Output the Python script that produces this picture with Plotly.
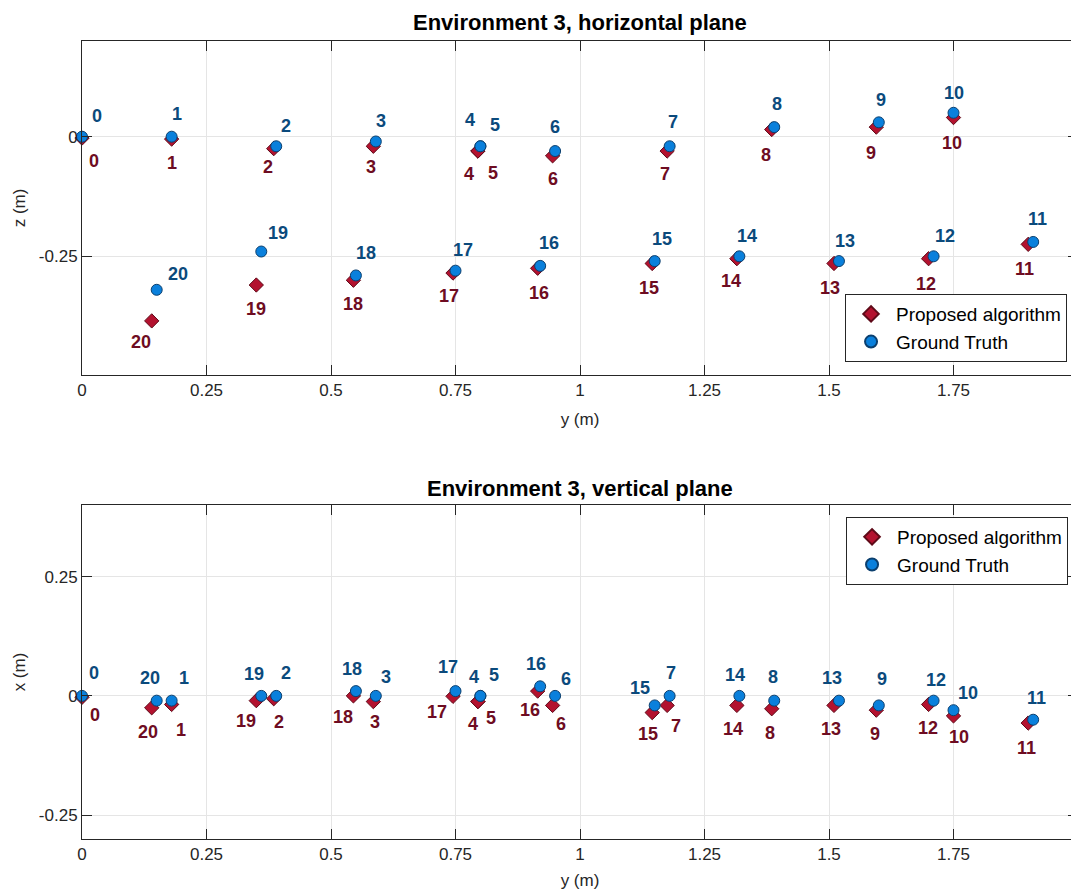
import plotly.graph_objects as go

# ---------------- data ----------------
point_ids = list(range(21))

# Ground truth positions (m)
gt_y = [0.00, 0.18, 0.39, 0.59, 0.80, 0.80, 0.95, 1.18, 1.39, 1.60, 1.75,
        1.91, 1.71, 1.52, 1.32, 1.15, 0.92, 0.75, 0.55, 0.36, 0.15]
gt_z = [0.00, 0.00, -0.02, -0.01, -0.02, -0.02, -0.03, -0.02, 0.02, 0.03, 0.05,
        -0.22, -0.25, -0.26, -0.25, -0.26, -0.27, -0.28, -0.29, -0.24, -0.32]
gt_x = [0.00, -0.01, 0.00, 0.00, 0.00, 0.00, 0.00, 0.00, -0.01, -0.02, -0.03,
        -0.05, -0.01, -0.01, 0.00, -0.02, 0.02, 0.01, 0.01, 0.00, -0.01]

# Proposed algorithm estimates (m)
est_y = [0.00, 0.18, 0.385, 0.585, 0.795, 0.795, 0.945, 1.175, 1.385, 1.595, 1.75,
         1.90, 1.70, 1.51, 1.315, 1.145, 0.915, 0.745, 0.545, 0.35, 0.14]
est_z = [-0.003, -0.005, -0.025, -0.02, -0.03, -0.03, -0.04, -0.03, 0.015, 0.02, 0.04,
         -0.225, -0.255, -0.265, -0.255, -0.265, -0.275, -0.285, -0.30, -0.31, -0.385]
est_x = [-0.003, -0.018, -0.006, -0.012, -0.012, -0.012, -0.02, -0.02, -0.027, -0.03, -0.042,
         -0.057, -0.018, -0.02, -0.02, -0.035, 0.01, -0.001, 0.0, -0.01, -0.025]

x_tick_vals = [0, 0.25, 0.5, 0.75, 1, 1.25, 1.5, 1.75, 2]
x_tick_text = ["0", "0.25", "0.5", "0.75", "1", "1.25", "1.5", "1.75", "2"]

# label offsets in screen pixels (dx right, dy down)
top_gt_off = [(15, -21), (5, -23), (10, -20), (5, -20), (-10, -26), (15, -21), (0, -24),
              (3, -24), (3, -23), (2, -22), (0, -20), (4, -23), (11, -20), (6, -20),
              (8, -20), (7, -22), (9, -23), (7, -21), (10, -22), (17, -19), (21, -16)]
top_est_off = [(12, 23), (0, 24), (-6, 18), (-2, 21), (-9, 23), (15, 22), (0, 23),
               (-2, 23), (-6, 25), (-5, 26), (-2, 25), (-4, 25), (-3, 25), (-4, 25),
               (-6, 22), (-3, 25), (1, 25), (-4, 23), (0, 24), (0, 24), (-11, 21)]
bot_gt_off = [(12, -23), (12, -23), (10, -23), (10, -19), (-6, -19), (14, -21), (11, -17),
              (1, -23), (-1, -24), (3, -26), (14, -17), (3, -22), (2, -21), (-7, -23),
              (-4, -21), (-15, -17), (-4, -22), (-8, -24), (-4, -22), (-7, -22), (-7, -23)]
bot_est_off = [(13, 18), (9, 26), (5, 23), (2, 20), (-5, 22), (13, 16), (8, 19),
               (9, 21), (-2, 24), (-1, 24), (5, 21), (-2, 25), (-1, 24), (-3, 24),
               (-4, 24), (-4, 21), (-8, 19), (-16, 16), (-10, 21), (-10, 20), (-4, 24)]

# ---------------- style ----------------
FONT = "Liberation Sans, Arial, Helvetica, sans-serif"
RED_FILL, RED_EDGE, RED_TEXT = "#B3122F", "#5E0A18", "#6E0C22"
BLUE_FILL, BLUE_EDGE, BLUE_TEXT = "#0A80DC", "#0B3F6E", "#0B4A7C"
AX_COL = "#262626"
GRID_COL = "#E5E5E5"

fig = go.Figure()

def add_pair(xs_est, ys_est, xs_gt, ys_gt, xa, ya, leg):
    fig.add_trace(go.Scatter(
        x=xs_est, y=ys_est, mode="markers", name="Proposed algorithm",
        marker=dict(symbol="diamond", size=11, color=RED_FILL,
                    line=dict(color=RED_EDGE, width=1)),
        xaxis=xa, yaxis=ya, legend=leg, cliponaxis=False))
    fig.add_trace(go.Scatter(
        x=xs_gt, y=ys_gt, mode="markers", name="Ground Truth",
        marker=dict(symbol="circle", size=11, color=BLUE_FILL,
                    line=dict(color=BLUE_EDGE, width=1)),
        xaxis=xa, yaxis=ya, legend=leg, cliponaxis=False))

add_pair(est_y, est_z, gt_y, gt_z, "x", "y", "legend")
add_pair(est_y, est_x, gt_y, gt_x, "x2", "y2", "legend2")

annotations = []

def add_labels(xs, ys, offs, xr, yr, color):
    for i, (xv, yv, (dx, dy)) in enumerate(zip(xs, ys, offs)):
        annotations.append(dict(
            x=xv, y=yv, xref=xr, yref=yr, text=str(point_ids[i]),
            showarrow=False, xshift=dx, yshift=-dy,
            font=dict(family=FONT, size=18, color=color, weight="bold")))

add_labels(gt_y, gt_z, top_gt_off, "x", "y", BLUE_TEXT)
add_labels(est_y, est_z, top_est_off, "x", "y", RED_TEXT)
add_labels(gt_y, gt_x, bot_gt_off, "x2", "y2", BLUE_TEXT)
add_labels(est_y, est_x, bot_est_off, "x2", "y2", RED_TEXT)

annotations.append(dict(text="<b>Environment 3, horizontal plane</b>", x=0.5, y=1.0238,
                        xref="paper", yref="paper", showarrow=False, yanchor="middle",
                        font=dict(family=FONT, size=22, color="#000000")))
annotations.append(dict(text="<b>Environment 3, vertical plane</b>", x=0.5, y=0.4398,
                        xref="paper", yref="paper", showarrow=False, yanchor="middle",
                        font=dict(family=FONT, size=22, color="#000000")))

axis_common = dict(showgrid=True, gridcolor=GRID_COL, gridwidth=1, zeroline=False,
                   showline=True, linecolor=AX_COL, linewidth=1, mirror="ticks",
                   ticks="inside", ticklen=10, tickcolor=AX_COL,
                   tickfont=dict(family=FONT, size=17, color=AX_COL),
                   ticklabeloverflow="allow", automargin=False)

# the page body adds an 8px offset; the figure is sized so the plot areas land
# on the same pixels as the reference (x 82..1078, y 41..839)
fig.update_layout(
    width=1071, height=882,
    margin=dict(l=74, r=1, t=33, b=51),
    paper_bgcolor="white", plot_bgcolor="white",
    font=dict(family=FONT, color=AX_COL),
    showlegend=True,
    xaxis=dict(domain=[0, 1], range=[0, 2], anchor="y", tickvals=x_tick_vals,
               ticktext=x_tick_text,
               title=dict(text="y (m)", font=dict(family=FONT, size=17, color=AX_COL), standoff=13),
               **axis_common),
    yaxis=dict(domain=[0.5815, 1], range=[-0.498, 0.2], anchor="x",
               tickvals=[-0.25, 0], ticktext=["-0.25", "0"],
               title=dict(text="z (m)", font=dict(family=FONT, size=17, color=AX_COL), standoff=8),
               **axis_common),
    xaxis2=dict(domain=[0, 1], range=[0, 2], anchor="y2", tickvals=x_tick_vals,
                ticktext=x_tick_text,
                title=dict(text="y (m)", font=dict(family=FONT, size=17, color=AX_COL), standoff=13),
                **axis_common),
    yaxis2=dict(domain=[0, 0.4185], range=[-0.3, 0.4], anchor="x2",
                tickvals=[-0.25, 0, 0.25], ticktext=["-0.25", "0", "0.25"],
                title=dict(text="x (m)", font=dict(family=FONT, size=17, color=AX_COL), standoff=8),
                **axis_common),
    legend=dict(x=0.989, y=0.5977, xanchor="right", yanchor="bottom",
                bgcolor="white", bordercolor=AX_COL, borderwidth=1,
                font=dict(family=FONT, size=19, color="#000000"),
                tracegroupgap=0, itemsizing="constant", itemwidth=40),
    legend2=dict(x=0.99, y=0.4035, xanchor="right", yanchor="top",
                 bgcolor="white", bordercolor=AX_COL, borderwidth=1,
                 font=dict(family=FONT, size=19, color="#000000"),
                 tracegroupgap=0, itemsizing="constant", itemwidth=40),
    annotations=annotations,
)

fig.write_html("out.html")
